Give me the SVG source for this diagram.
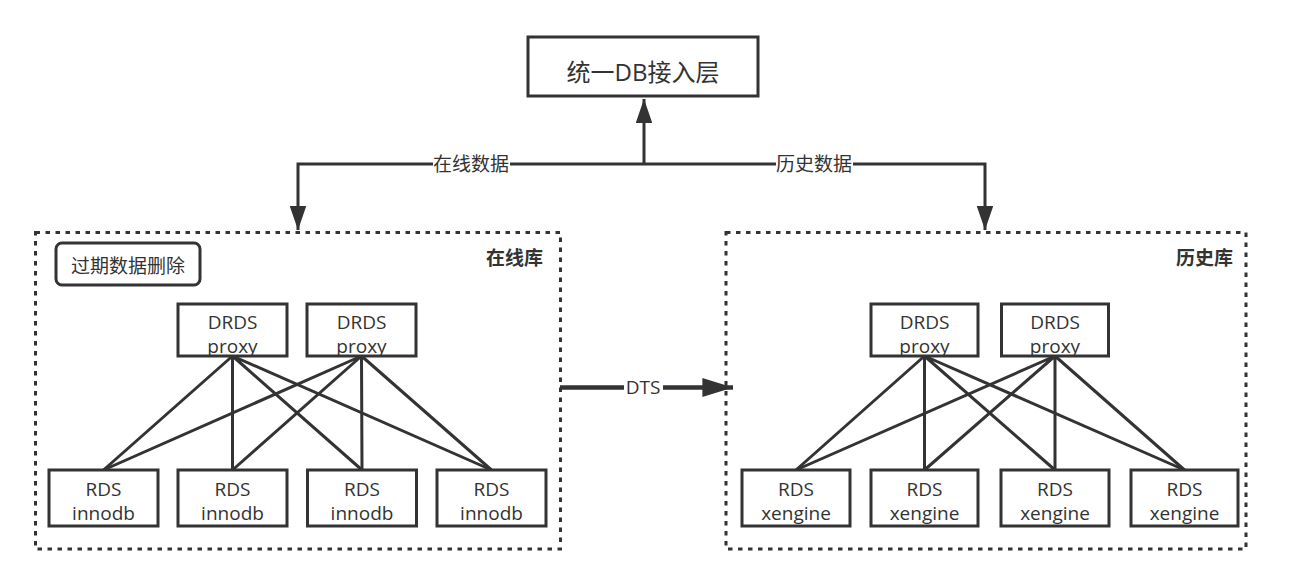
<svg xmlns="http://www.w3.org/2000/svg" width="1300" height="580" viewBox="0 0 1300 580">
<defs>
<style>
.box{fill:#fff;stroke:#333;stroke-width:3}
.cont{fill:none;stroke:#333;stroke-width:3;stroke-dasharray:4.5 5.5}
.ln{fill:none;stroke:#333;stroke-width:3}
.t{font-family:"Open Sans","Noto Sans CJK SC",sans-serif;font-size:19px;fill:#333;text-anchor:middle}
.b{font-weight:bold;text-anchor:end}
.lbl{fill:#fff}
</style>
<marker id="ah" viewBox="0 0 10 10" refX="10" refY="5" markerWidth="8" markerHeight="5.5" orient="auto" markerUnits="strokeWidth" preserveAspectRatio="none">
<path d="M0,0 L10,5 L0,10 z" fill="#333"/>
</marker>
<marker id="ahb" viewBox="0 0 10 10" refX="10" refY="5" markerWidth="6.8" markerHeight="4.2" orient="auto" markerUnits="strokeWidth" preserveAspectRatio="none">
<path d="M0,0 L10,5 L0,10 z" fill="#333"/>
</marker>
</defs>

<g id="online-zone">
<rect class="cont" x="35.5" y="232.5" width="525" height="316.5"/>
<text class="t b" x="543" y="265">在线库</text>
</g>
<g id="history-zone">
<rect class="cont" x="726" y="232.5" width="520" height="316.5"/>
<text class="t b" x="1233" y="265">历史库</text>
</g>

<g id="connectors">
<path class="ln" d="M644,164 V99" marker-end="url(#ah)"/>
<path class="ln" d="M644,164 H298 V230" marker-end="url(#ah)"/>
<path class="ln" d="M644,164 H985 V230" marker-end="url(#ah)"/>
<rect class="lbl" x="433" y="153" width="77" height="23"/>
<text class="t" x="471" y="171">在线数据</text>
<rect class="lbl" x="776" y="153" width="77" height="23"/>
<text class="t" x="814" y="171">历史数据</text>
<path d="M560,387.5 H733" fill="none" stroke="#333" stroke-width="4.5" marker-end="url(#ahb)"/>
<rect class="lbl" x="624" y="376" width="39" height="23"/>
<text class="t" x="643" y="394">DTS</text>
<g class="ln">
<path d="M232.5,356 L103.5,470 M232.5,356 L232.5,470 M232.5,356 L362,470 M232.5,356 L491.5,470"/>
<path d="M361.5,356 L103.5,470 M361.5,356 L232.5,470 M361.5,356 L362,470 M361.5,356 L491.5,470"/>
<path d="M924.5,356 L796,470 M924.5,356 L924.5,470 M924.5,356 L1055,470 M924.5,356 L1184.5,470"/>
<path d="M1055,356 L796,470 M1055,356 L924.5,470 M1055,356 L1055,470 M1055,356 L1184.5,470"/>
</g>
</g>

<g id="db-access">
<rect class="box" x="528" y="37" width="230" height="59"/>
<text class="t" x="643" y="81" style="font-size:24px">统一DB接入层</text>
</g>

<g id="expire-delete">
<rect class="box" x="56" y="243" width="144" height="42" rx="6"/>
<text class="t" x="128" y="273">过期数据删除</text>
</g>

<g id="drds-online-1"><rect class="box" x="178" y="304" width="109" height="52"/><text class="t" x="232.5" y="329">DRDS<tspan x="232.5" dy="24">proxy</tspan></text></g>
<g id="drds-online-2"><rect class="box" x="307" y="304" width="109" height="52"/><text class="t" x="361.5" y="329">DRDS<tspan x="361.5" dy="24">proxy</tspan></text></g>

<g id="rds-innodb-1"><rect class="box" x="49" y="470" width="109" height="56"/><text class="t" x="103.5" y="496">RDS<tspan x="103.5" dy="23.5">innodb</tspan></text></g>
<g id="rds-innodb-2"><rect class="box" x="178" y="470" width="109" height="56"/><text class="t" x="232.5" y="496">RDS<tspan x="232.5" dy="23.5">innodb</tspan></text></g>
<g id="rds-innodb-3"><rect class="box" x="307.5" y="470" width="109" height="56"/><text class="t" x="362" y="496">RDS<tspan x="362" dy="23.5">innodb</tspan></text></g>
<g id="rds-innodb-4"><rect class="box" x="437" y="470" width="109" height="56"/><text class="t" x="491.5" y="496">RDS<tspan x="491.5" dy="23.5">innodb</tspan></text></g>

<g id="drds-history-1"><rect class="box" x="871" y="304" width="107" height="52"/><text class="t" x="924.5" y="329">DRDS<tspan x="924.5" dy="24">proxy</tspan></text></g>
<g id="drds-history-2"><rect class="box" x="1001.5" y="304" width="107" height="52"/><text class="t" x="1055" y="329">DRDS<tspan x="1055" dy="24">proxy</tspan></text></g>

<g id="rds-xengine-1"><rect class="box" x="742" y="470" width="108" height="56"/><text class="t" x="796" y="496">RDS<tspan x="796" dy="23.5">xengine</tspan></text></g>
<g id="rds-xengine-2"><rect class="box" x="871" y="470" width="107" height="56"/><text class="t" x="924.5" y="496">RDS<tspan x="924.5" dy="23.5">xengine</tspan></text></g>
<g id="rds-xengine-3"><rect class="box" x="1001" y="470" width="108" height="56"/><text class="t" x="1055" y="496">RDS<tspan x="1055" dy="23.5">xengine</tspan></text></g>
<g id="rds-xengine-4"><rect class="box" x="1131" y="470" width="107" height="56"/><text class="t" x="1184.5" y="496">RDS<tspan x="1184.5" dy="23.5">xengine</tspan></text></g>
</svg>
